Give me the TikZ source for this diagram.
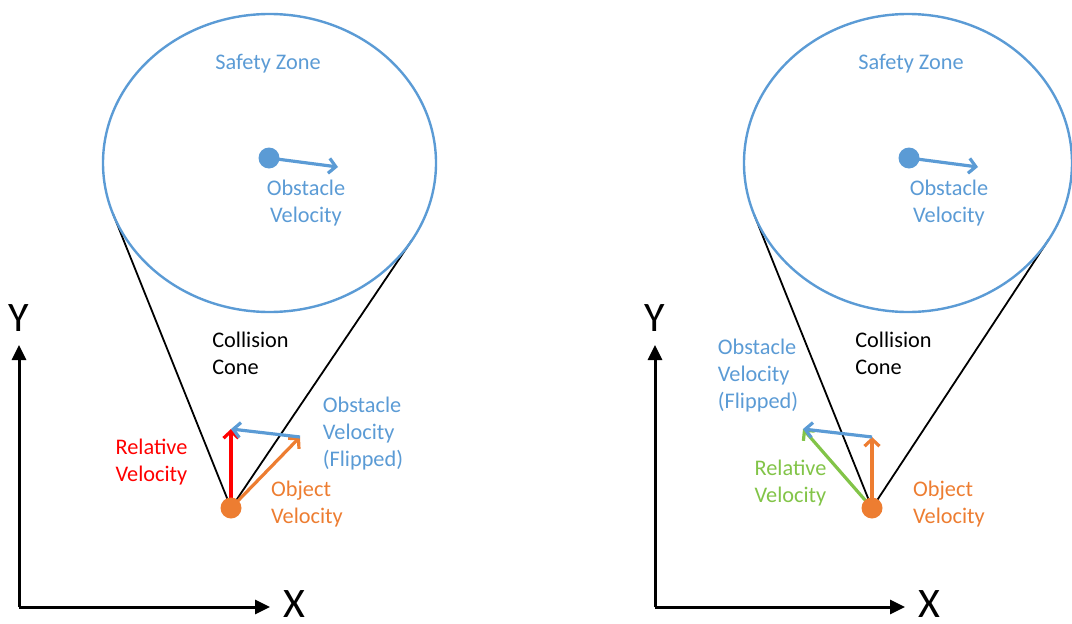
\documentclass[tikz,border=0pt]{standalone}
\usepackage{fontspec}
\setmainfont{Carlito}
\usetikzlibrary{arrows.meta}
\definecolor{zoneblue}{HTML}{5B9BD5}
\definecolor{objorange}{HTML}{ED7D31}
\definecolor{relred}{HTML}{FF0000}
\definecolor{relgreen}{RGB}{130,196,72}
\begin{document}
\begin{tikzpicture}[x=1pt,y=-1pt,
  lbl/.style={font=\fontsize{22.3}{27}\selectfont, inner sep=0pt, align=left},
  ctrlbl/.style={font=\fontsize{22.3}{27}\selectfont, inner sep=0pt, align=center},
  axislbl/.style={font=\fontsize{42}{48}\selectfont, inner sep=0pt},
  zone/.style={draw=zoneblue, line width=2.4pt},
  conerim/.style={draw=black, line width=1.8pt},
  vec/.style={line width=3.2pt, -{Straight Barb[length=7pt,width=15pt]}},
  axis/.style={line width=3pt, -{Triangle[length=15pt,width=14pt]}},
  dot/.style={circle, inner sep=0pt, minimum size=21pt}
]
\useasboundingbox (0,0) rectangle (1072,624);
\begin{scope}
\clip (0,0) rectangle (1072,624);

% ---------- left panel: velocity sum inside the cone ----------
\coordinate (objL) at (231,508);
\coordinate (obsL) at (269,158);
\coordinate (tanL1) at (112.8,213.3);
\coordinate (tanL2) at (412,240);
\coordinate (objTipL) at (300,437);
\coordinate (relTipL) at (231,429);
\coordinate (obsTipL) at (338,167);

\draw[conerim] (tanL1) -- (objL) -- (tanL2);
\draw[zone] (269.5,163) ellipse [x radius=166.5, y radius=149];

\draw[vec, draw=relred] (objL) -- (relTipL);
\draw[vec, draw=objorange] (objL) -- (objTipL);
\draw[vec, draw=zoneblue] (objTipL) -- (relTipL);
\draw[vec, draw=zoneblue] (obsL) -- (obsTipL);
\node[dot, fill=objorange] (objDotL) at (objL) {};
\node[dot, fill=zoneblue] (obsDotL) at (obsL) {};

\node[lbl, text=zoneblue] (zoneL) at (268,64) {Safety Zone};
\node[ctrlbl, text=zoneblue] (obsVelL) at (306,203) {Obstacle\\Velocity};
\node[lbl] (coneL) at (250.5,353) {Collision\\Cone};
\node[lbl, text=zoneblue] (flipL) at (363,434) {Obstacle\\Velocity\\(Flipped)};
\node[lbl, text=relred] (relL) at (151.5,462) {Relative\\Velocity};
\node[lbl, text=objorange] (objVelL) at (307,504.5) {Object\\Velocity};

\coordinate (origL) at (19,607);
\coordinate (yTipL) at (19,345);
\coordinate (xTipL) at (270,607);
\draw[axis] (origL) -- (yTipL);
\draw[axis] (origL) -- (xTipL);
\node[axislbl] (yL) at (19,318) {Y};
\node[axislbl] (xL) at (294,604.5) {X};

% ---------- right panel: velocity sum outside the cone ----------
\coordinate (objR) at (872,508);
\coordinate (obsR) at (909,158);
\coordinate (tanR1) at (753.9,214.1);
\coordinate (tanR2) at (1048.7,239.5);
\coordinate (objTipR) at (872,437);
\coordinate (relTipR) at (803,429);
\coordinate (obsTipR) at (978,167);

\draw[conerim] (tanR1) -- (objR) -- (tanR2);
\draw[zone] (908,163) ellipse [x radius=164, y radius=149];

\draw[vec, draw=relgreen] (objR) -- (relTipR);
\draw[vec, draw=objorange] (objR) -- (objTipR);
\draw[vec, draw=zoneblue] (objTipR) -- (relTipR);
\draw[vec, draw=zoneblue] (obsR) -- (obsTipR);
\node[dot, fill=objorange] (objDotR) at (objR) {};
\node[dot, fill=zoneblue] (obsDotR) at (obsR) {};

\node[lbl, text=zoneblue] (zoneR) at (911,64) {Safety Zone};
\node[ctrlbl, text=zoneblue] (obsVelR) at (949,203) {Obstacle\\Velocity};
\node[lbl] (coneR) at (893.5,353) {Collision\\Cone};
\node[lbl, text=zoneblue] (flipR) at (758,376) {Obstacle\\Velocity\\(Flipped)};
\node[lbl, text=relgreen] (relR) at (790.5,483.5) {Relative\\Velocity};
\node[lbl, text=objorange] (objVelR) at (949,504.5) {Object\\Velocity};

\coordinate (origR) at (655,607);
\coordinate (yTipR) at (655,345);
\coordinate (xTipR) at (905,607);
\draw[axis] (origR) -- (yTipR);
\draw[axis] (origR) -- (xTipR);
\node[axislbl] (yR) at (655,318) {Y};
\node[axislbl] (xR) at (929,604.5) {X};
\end{scope}
\end{tikzpicture}
\end{document}
